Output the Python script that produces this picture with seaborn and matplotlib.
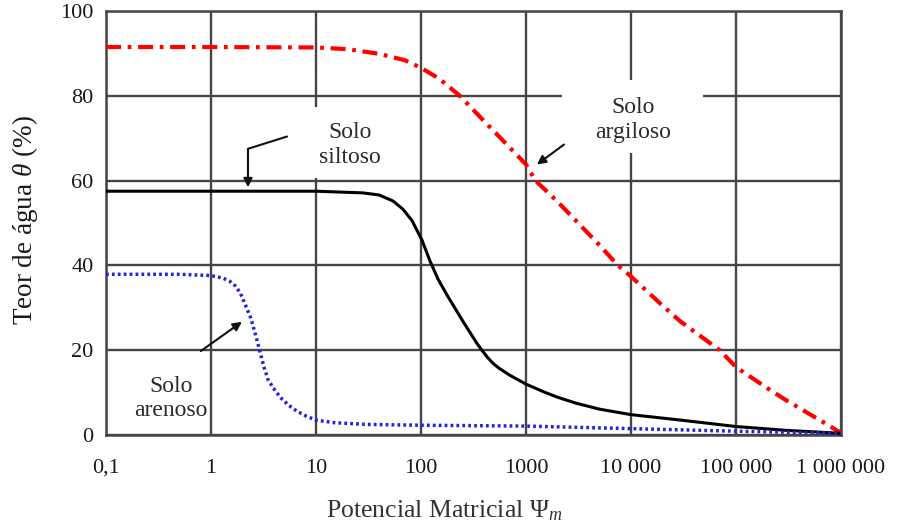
import numpy as np
import pandas as pd
import matplotlib
matplotlib.use("Agg")
import matplotlib.pyplot as plt
import seaborn as sns
from matplotlib.patches import Rectangle

# ---------------- data ----------------
psi_argiloso = [0.1, 1, 10, 20, 40, 70, 100, 150, 234, 400, 700, 1000, 1230, 2000, 3000,
                5000, 7500, 10000, 20000, 29500, 70000, 100000, 200000, 300000, 600000, 1000000]
theta_argiloso = [91.5, 91.5, 91.4, 91.0, 89.9, 88.4, 86.6, 84.0, 80.0, 74.0, 67.8, 63.8, 60.0, 55.0, 50.5,
                  44.8, 40.0, 37.4, 30.5, 26.8, 20.0, 16.0, 11.0, 8.2, 3.8, 0.5]

psi_siltoso = [0.1, 1, 10, 28, 40, 54, 67, 82, 102, 122, 145, 177, 251, 341, 380, 430, 485, 550, 700, 1000,
               1500, 2000, 3000, 5000, 10000, 30000, 100000, 300000, 1000000]
theta_siltoso = [57.5, 57.5, 57.5, 57.1, 56.6, 55.2, 53.3, 50.6, 46.0, 41.0, 36.8, 33.0, 26.8, 21.6, 20.0, 18.3, 16.9, 15.8, 14.1, 12.0,
                 10.1, 8.9, 7.5, 6.1, 4.8, 3.5, 2.0, 1.1, 0.4]

psi_arenoso = [0.1, 0.5, 1, 1.3, 1.5, 1.7, 1.9, 2.1, 2.4, 2.7, 2.9, 3.2, 3.5, 4.0, 4.6, 5.5, 6.6,
               8.0, 10, 15, 30, 100, 1000, 10000, 100000, 1000000]
theta_arenoso = [37.9, 37.9, 37.6, 37.0, 36.3, 35.2, 33.5, 31.0, 27.5, 23.0, 20.0, 16.0, 13.0, 10.8, 8.8, 7.0, 5.6,
                 4.5, 3.5, 2.9, 2.5, 2.3, 2.1, 1.5, 0.9, 0.4]

x_ticks = [0.1, 1, 10, 100, 1000, 10000, 100000, 1000000]
x_tick_labels = ["0,1", "1", "10", "100", "1000", "10 000", "100 000", "1 000 000"]
y_ticks = [0, 20, 40, 60, 80, 100]
y_tick_labels = ["0", "20", "40", "60", "80", "100"]

# ---------------- style ----------------
sns.set_style("white")
plt.rcParams['font.family'] = ['Liberation Serif', 'DejaVu Serif']
plt.rcParams['mathtext.fontset'] = 'custom'
plt.rcParams['mathtext.rm'] = 'Liberation Serif'
plt.rcParams['mathtext.it'] = 'Liberation Serif:italic'

W, H = 909, 529
fig = plt.figure(figsize=(W / 100, H / 100), dpi=100)
L, R, T, B = 106, 841, 11, 435
ax = fig.add_axes([L / W, 1 - B / H, (R - L) / W, (B - T) / H])
ax.set_xscale('log')

grid_c = '#454545'
ax.set_axisbelow(True)

# white boxes that interrupt the grid behind the labels (axes-fraction positions)
def box(x0, y0, x1, y1):
    ax.add_patch(Rectangle(((x0 - L) / (R - L), (B - y1) / (B - T)),
                           (x1 - x0) / (R - L), (y1 - y0) / (B - T),
                           transform=ax.transAxes, facecolor='white', edgecolor='none', zorder=1))

box(303, 107, 397, 178)
box(562, 80, 703, 153)

df_arg = pd.DataFrame({'psi': psi_argiloso, 'theta': theta_argiloso})
df_sil = pd.DataFrame({'psi': psi_siltoso, 'theta': theta_siltoso})
df_are = pd.DataFrame({'psi': psi_arenoso, 'theta': theta_arenoso})

sns.lineplot(data=df_arg, x='psi', y='theta', ax=ax, color='#ff0000', linewidth=3.0, zorder=3)
ax.lines[-1].set_dashes((3.6, 1.6, 0.9, 1.6))
sns.lineplot(data=df_sil, x='psi', y='theta', ax=ax, color='#000000', linewidth=2.2, zorder=3)
sns.lineplot(data=df_are, x='psi', y='theta', ax=ax, color='#2323d8', linewidth=2.5, zorder=3)
ax.lines[-1].set_dashes((0.8, 0.9))

ax.set_xlim(0.1, 1e6)
ax.set_ylim(0, 100)
ax.set_xticks(x_ticks)
ax.set_xticklabels(x_tick_labels)
ax.set_yticks(y_ticks)
ax.set_yticklabels(y_tick_labels)
ax.minorticks_off()
ax.tick_params(axis='x', length=0, pad=17, labelsize=16, colors='#1a1a1a')
ax.tick_params(axis='y', length=0, pad=9, labelsize=16, colors='#1a1a1a')
ax.grid(True, which='major', color=grid_c, linewidth=1.7)
for s in ax.spines.values():
    s.set_color(grid_c)
    s.set_linewidth(1.8)
    s.set_visible(True)

ax.set_xlabel(r"Potencial Matricial $\Psi_{m}$", fontsize=18.5, color='#333333')
ax.xaxis.label.set_va('center')
ax.xaxis.set_label_coords((444 - L) / (R - L), (B - 511) / (B - T))
ax.set_ylabel(r"Teor de água $\theta$ (%)", fontsize=19.5, color='#1a1a1a')
ax.yaxis.label.set_va('center')
ax.yaxis.set_label_coords((25 - L) / (R - L), (B - 220) / (B - T))

# annotation texts
txt_kw = dict(ha='center', va='center', fontsize=17, color='#2a2a2a', linespacing=1.2, zorder=4)
ax.text(21.1, 68.4, "Solo\nsiltoso", **txt_kw)
ax.text(10400, 74.3, "Solo\nargiloso", **txt_kw)
ax.text(0.416, 8.7, "Solo\narenoso", **txt_kw)

arrow_kw = dict(arrowstyle='-|>', color='#111111', lw=1.5, mutation_scale=13, shrinkA=0, shrinkB=0)
line_kw = dict(arrowstyle='-', color='#111111', lw=1.5, shrinkA=0, shrinkB=0)
# siltoso: bent leader
ax.annotate("", xy=(2.25, 67.5), xytext=(5.3, 70.4), arrowprops=line_kw, zorder=4)
ax.annotate("", xy=(2.25, 58.4), xytext=(2.25, 67.5), arrowprops=arrow_kw, zorder=4)
# argiloso
ax.annotate("", xy=(1270, 63.8), xytext=(2300, 68.5), arrowprops=arrow_kw, zorder=4)
# arenoso
ax.annotate("", xy=(1.97, 26.7), xytext=(0.80, 19.8), arrowprops=arrow_kw, zorder=4)

fig.savefig("out.png", dpi=100)
